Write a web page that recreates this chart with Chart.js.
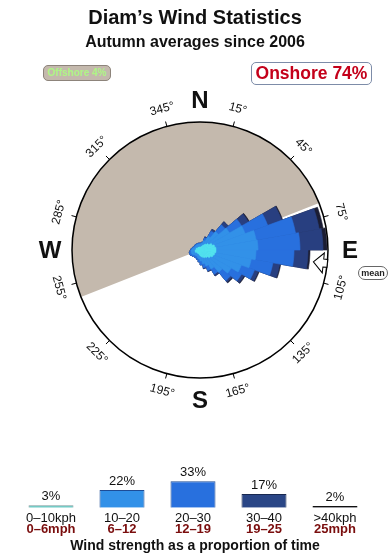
<!DOCTYPE html>
<html>
<head>
<meta charset="utf-8">
<script src="https://cdn.jsdelivr.net/npm/chart.js@4.4.1/dist/chart.umd.min.js"></script>
<style>
    body { margin: 0; width: 390px; height: 560px; background: #fff; position: relative; overflow: hidden;
           font-family: "Liberation Sans", Arial, sans-serif; }
    canvas { position: absolute; left: 0; }
    #roseChart { top: 0; }
    #bandChart { top: 440px; }
    .txt { position: absolute; left: 0; width: 390px; text-align: center; font-weight: bold; color: #111; }
    #title { top: 5px; font-size: 20px; line-height: 24px; }
    #subtitle { top: 32px; font-size: 16px; line-height: 20px; }
    .badge { position: absolute; box-sizing: border-box; text-align: center; border-radius: 5px; }
    #offshore { left: 43px; top: 65px; width: 68px; height: 16px; background: #c4b9ad; border: 1px solid #8d847b;
                color: #aef585; font-size: 10px; font-weight: bold; line-height: 14px; }
    #onshore { left: 251px; top: 62px; width: 121px; height: 23px; background: #fff; border: 1px solid #7d8ca8;
               color: #c4001a; font-size: 17.5px; font-weight: bold; line-height: 21px; }
    #mean { left: 358px; top: 266px; width: 30px; height: 14px; background: #fff; border: 1px solid #666;
            border-radius: 7px; color: #222; font-size: 9px; font-weight: bold; line-height: 12px; }
</style>
</head>
<body>
<canvas id="roseChart" width="390" height="440"></canvas>
<canvas id="bandChart" width="390" height="120"></canvas>
<div id="title" class="txt">Diam’s Wind Statistics</div>
<div id="subtitle" class="txt">Autumn averages since 2006</div>
<div id="offshore" class="badge">Offshore 4%</div>
<div id="onshore" class="badge">Onshore 74%</div>
<div id="mean" class="badge">mean</div>
<script>
// --- DATOS ---

// Sectores de 10° (rumbo inicial de cada sector)
const sectorLabels = ['0°', '10°', '20°', '30°', '40°', '50°', '60°', '70°', '80°', '90°', '100°', '110°',
    '120°', '130°', '140°', '150°', '160°', '170°', '180°', '190°', '200°', '210°', '220°', '230°',
    '240°', '250°', '260°', '270°', '280°', '290°', '300°', '310°', '320°', '330°', '340°', '350°'];

// Longitud de cada franja de velocidad por sector (el círculo exterior = 12.8)
const rose0to10 = [0.3, 0.3, 0.4, 0.6, 0.8, 1.0, 1.3, 1.5, 1.6, 1.6, 1.5, 1.4, 1.2, 1.0, 0.9, 0.8, 0.7, 0.6,
    0.5, 0.4, 0.4, 0.4, 0.4, 0.4, 0.5, 0.5, 0.5, 0.4, 0.4, 0.4, 0.3, 0.3, 0.3, 0.3, 0.3, 0.3];
const rose10to20 = [0.3, 0.4, 0.6, 1.0, 1.6, 2.4, 3.5, 4.2, 4.2, 4.0, 3.7, 3.0, 2.4, 1.9, 1.3, 0.9, 0.7, 0.5,
    0.4, 0.4, 0.3, 0.3, 0.3, 0.4, 0.4, 0.4, 0.4, 0.4, 0.3, 0.2, 0.3, 0.3, 0.3, 0.3, 0.3, 0.3];
const rose20to30 = [0.1, 0.1, 0.3, 0.6, 0.9, 1.4, 2.4, 4.0, 4.2, 3.8, 2.2, 1.4, 1.2, 1.1, 0.6, 0.5, 0.4, 0.4,
    0.3, 0.2, 0.2, 0.2, 0.2, 0.2, 0.2, 0.2, 0.1, 0.1, 0.1, 0.1, 0.1, 0.1, 0.1, 0.1, 0.1, 0.1];
const rose30to40 = [0, 0, 0.1, 0.2, 0.4, 0.8, 1.5, 2.4, 2.3, 1.4, 0.7, 0.4, 0.3, 0.2, 0.2, 0.1, 0.1, 0,
    0, 0, 0, 0, 0, 0, 0, 0, 0, 0, 0, 0, 0, 0, 0, 0, 0, 0];
const rose40plus = [0, 0, 0, 0, 0, 0.1, 0.1, 0.4, 0.4, 0.2, 0.1, 0.1, 0.1, 0.1, 0, 0, 0, 0,
    0, 0, 0, 0, 0, 0, 0, 0, 0, 0, 0, 0, 0, 0, 0, 0, 0, 0];
const roseMax = 12.8;

// Sector "offshore" (rumbos) y dirección media
const offshoreFrom = 248.5;
const offshoreTo = 68.5;
const meanDirection = 96;

// Marcas de grados y puntos cardinales
const degreeTicks = [15, 45, 75, 105, 135, 165, 195, 225, 255, 285, 315, 345];
const compassLetters = ['N', 'E', 'S', 'W'];
const compassBearings = [0, 90, 180, 270];

// Leyenda inferior: proporción de tiempo por velocidad
const speedKph = ['0–10kph', '10–20', '20–30', '30–40', '>40kph'];
const speedMph = ['0–6mph', '6–12', '12–19', '19–25', '25mph'];
const speedShares = [3, 22, 33, 17, 2];

document.addEventListener("DOMContentLoaded", function () {

    const roseColors = ['#52e3ee', '#3291e8', '#2870de', '#283f80', '#1b1d33'];
    const bandColors = ['#52c2bb', '#3291e8', '#2870de', '#2a4686', '#1e1e2a'];
    const bandBorders = ['#7d9a9c', '#1d4c96', '#1d4c96', '#18284f', '#111'];

    // Acumula las franjas para apilarlas radialmente
    const bands = [rose0to10, rose10to20, rose20to30, rose30to40, rose40plus];
    const stacked = [];
    bands.forEach(function (band, k) {
        stacked.push(band.map(function (v, i) { return k === 0 ? v : stacked[k - 1][i] + v; }));
    });

    const rad = function (b) { return (b - 90) * Math.PI / 180; };

    // Fondo: sector offshore gris
    const roseBackground = {
        id: 'roseBackground',
        beforeDatasetsDraw(chart) {
            const r = chart.scales.r;
            const R = r.getDistanceFromCenterForValue(roseMax);
            const ctx = chart.ctx;
            ctx.save();
            ctx.beginPath();
            ctx.moveTo(r.xCenter, r.yCenter);
            ctx.arc(r.xCenter, r.yCenter, R, rad(offshoreFrom), rad(offshoreTo + 360));
            ctx.closePath();
            ctx.fillStyle = '#c4b9ad';
            ctx.fill();
            ctx.restore();
        }
    };

    // Círculo, marcas, textos y flecha de la media
    const roseFrame = {
        id: 'roseFrame',
        afterDatasetsDraw(chart) {
            const r = chart.scales.r;
            const cx = r.xCenter, cy = r.yCenter;
            const R = r.getDistanceFromCenterForValue(roseMax);
            const ctx = chart.ctx;
            ctx.save();
            ctx.beginPath();
            ctx.arc(cx, cy, R, 0, Math.PI * 2);
            ctx.lineWidth = 1.5;
            ctx.strokeStyle = '#000';
            ctx.stroke();

            ctx.fillStyle = '#111';
            ctx.textAlign = 'center';
            ctx.textBaseline = 'middle';
            ctx.font = '12px "Liberation Sans", Arial, sans-serif';
            degreeTicks.forEach(function (b) {
                const a = rad(b);
                ctx.beginPath();
                ctx.moveTo(cx + Math.cos(a) * R, cy + Math.sin(a) * R);
                ctx.lineTo(cx + Math.cos(a) * (R + 5), cy + Math.sin(a) * (R + 5));
                ctx.lineWidth = 1;
                ctx.stroke();
                ctx.save();
                ctx.translate(cx + Math.cos(a) * (R + 18), cy + Math.sin(a) * (R + 18));
                const rot = (b < 90 || b > 270) ? b : b - 180;
                ctx.rotate(rot * Math.PI / 180);
                ctx.fillText(b + '°', 0, 0);
                ctx.restore();
            });

            ctx.font = 'bold 24px "Liberation Sans", Arial, sans-serif';
            compassLetters.forEach(function (l, i) {
                const a = rad(compassBearings[i]);
                ctx.fillText(l, cx + Math.cos(a) * (R + 22), cy + Math.sin(a) * (R + 22) + 1);
            });

            // Flecha blanca de la dirección media
            ctx.translate(cx, cy);
            ctx.rotate(meanDirection * Math.PI / 180);
            ctx.beginPath();
            ctx.moveTo(0, -R + 14);
            ctx.lineTo(-10, -R + 4);
            ctx.lineTo(-4, -R + 4);
            ctx.lineTo(-4, -R);
            ctx.lineTo(4, -R);
            ctx.lineTo(4, -R + 4);
            ctx.lineTo(10, -R + 4);
            ctx.closePath();
            ctx.fillStyle = '#fff';
            ctx.fill();
            ctx.lineWidth = 1;
            ctx.strokeStyle = '#000';
            ctx.stroke();
            ctx.restore();
        }
    };

    new Chart(document.getElementById('roseChart').getContext('2d'), {
        type: 'polarArea',
        data: {
            labels: sectorLabels,
            datasets: stacked.map(function (vals, k) {
                return { data: vals, backgroundColor: roseColors[k], borderColor: roseColors[k], borderWidth: 0.6 };
            })
        },
        options: {
            responsive: false,
            animation: false,
            startAngle: 0,
            layout: { padding: { left: 72, right: 62, top: 122, bottom: 62 } },
            plugins: { legend: { display: false }, tooltip: { enabled: false } },
            scales: {
                r: {
                    min: 0, max: roseMax,
                    ticks: { display: false },
                    grid: { display: false },
                    angleLines: { display: false },
                    pointLabels: { display: false }
                }
            }
        },
        plugins: [roseBackground, roseFrame]
    });

    // Etiquetas de la leyenda de barras
    const bandText = {
        id: 'bandText',
        afterDatasetsDraw(chart) {
            const ctx = chart.ctx;
            const meta = chart.getDatasetMeta(0);
            const base = chart.chartArea.bottom;
            ctx.save();
            ctx.textAlign = 'center';
            ctx.textBaseline = 'middle';
            meta.data.forEach(function (bar, i) {
                ctx.fillStyle = '#111';
                ctx.font = '13px "Liberation Sans", Arial, sans-serif';
                ctx.fillText(speedShares[i] + '%', bar.x, bar.y - 9);
                ctx.fillText(speedKph[i], bar.x, base + 11);
                ctx.fillStyle = '#7a0d0d';
                ctx.font = 'bold 13px "Liberation Sans", Arial, sans-serif';
                ctx.fillText(speedMph[i], bar.x, base + 22);
            });
            ctx.fillStyle = '#111';
            ctx.font = 'bold 14px "Liberation Sans", Arial, sans-serif';
            ctx.fillText('Wind strength as a proportion of time', 195, base + 38);
            ctx.restore();
        }
    };

    new Chart(document.getElementById('bandChart').getContext('2d'), {
        type: 'bar',
        data: {
            labels: speedKph,
            datasets: [{
                data: speedShares,
                backgroundColor: bandColors,
                borderColor: bandBorders,
                borderWidth: 1,
                barPercentage: 0.634,
                categoryPercentage: 1
            }]
        },
        options: {
            responsive: false,
            animation: false,
            layout: { padding: { left: 15.5, right: 19.5, top: 27.7, bottom: 52.3 } },
            plugins: { legend: { display: false }, tooltip: { enabled: false } },
            scales: {
                x: { display: false },
                y: { display: false, min: 0, max: 50 }
            }
        },
        plugins: [bandText]
    });
});
</script>
</body>
</html>
